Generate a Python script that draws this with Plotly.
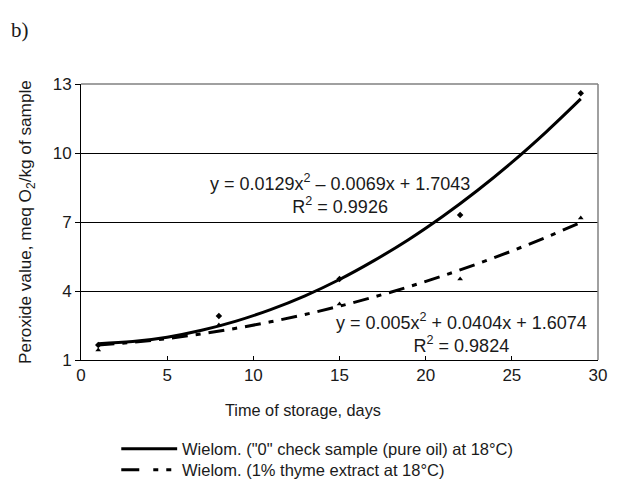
import plotly.graph_objects as go

# Measured points (days of storage)
days = [1, 8, 15, 22, 29]
check_pv = [1.65, 2.91, 4.52, 7.30, 12.60]
thyme_pv = [1.43, 2.52, 3.43, 4.52, 7.17]

# Polynomial trend lines
trend_days = [1, 3, 5, 7, 9, 11, 13, 15, 17, 19, 21, 23, 25, 27, 29]
check_trend = [1.71, 1.80, 1.99, 2.29, 2.69, 3.19, 3.79, 4.50, 5.32, 6.23, 7.25, 8.37, 9.59, 10.92, 12.35]
thyme_trend = [1.65, 1.77, 1.93, 2.14, 2.38, 2.66, 2.98, 3.34, 3.74, 4.18, 4.66, 5.18, 5.74, 6.34, 6.98]

x_ticks = [0, 5, 10, 15, 20, 25, 30]
y_ticks = [1, 4, 7, 10, 13]

series_names = ['Wielom. ("0" check sample (pure oil) at 18°C)',
                "Wielom. (1% thyme extract at 18°C)"]

FONT = "Liberation Sans, Arial, sans-serif"
TXT = "#1a1a1a"
TREND_DASH = "16px,8px,5px,8px"

fig = go.Figure()

fig.add_trace(go.Scatter(
    x=trend_days, y=check_trend, mode="lines", line_shape="spline",
    line=dict(color="black", width=3), name=series_names[0]
))
fig.add_trace(go.Scatter(
    x=trend_days, y=thyme_trend, mode="lines", line_shape="spline",
    line=dict(color="black", width=3, dash=TREND_DASH), name=series_names[1]
))
fig.add_trace(go.Scatter(
    x=days, y=check_pv, mode="markers",
    marker=dict(symbol="diamond", size=5, color="black")
))
fig.add_trace(go.Scatter(
    x=days, y=thyme_pv, mode="markers",
    marker=dict(symbol="triangle-up", size=5, color="black")
))

# regression equations
fig.add_annotation(x=15.0, y=8.20,
                   text="y = 0.0129x<sup>2</sup> – 0.0069x + 1.7043<br>R<sup>2</sup> = 0.9926")
fig.add_annotation(x=22.07, y=2.17,
                   text="y = 0.005x<sup>2</sup> + 0.0404x + 1.6074<br>R<sup>2</sup> = 0.9824")
fig.update_annotations(xref="x", yref="y", showarrow=False, align="center",
                       font=dict(size=18, color=TXT))

# panel label
fig.add_annotation(xref="paper", yref="paper", x=-0.14, y=1.245, xanchor="left", yanchor="top",
                   showarrow=False, text="b)",
                   font=dict(size=21, family="Liberation Serif, Times New Roman, serif", color=TXT))

# x-axis title (sits left of plot centre in the original)
fig.add_annotation(xref="paper", yref="paper", x=0.43, y=-0.181, yanchor="middle",
                   showarrow=False, text="Time of storage, days",
                   font=dict(size=16.3, color=TXT))

# legend drawn below the plot (paper coords)
fig.add_shape(type="line", xref="paper", yref="paper", x0=0.0779, x1=0.186, y0=-0.322, y1=-0.322,
              line=dict(color="black", width=3))
fig.add_shape(type="line", xref="paper", yref="paper", x0=0.0779, x1=0.186, y0=-0.398, y1=-0.398,
              line=dict(color="black", width=3, dash="18px,14px,5px,8px,5px,7px"))
for name, yy in zip(series_names, [-0.322, -0.398]):
    fig.add_annotation(xref="paper", yref="paper", x=0.192, y=yy, xanchor="left", yanchor="middle",
                       showarrow=False, text=name, font=dict(size=16.5, color=TXT))

# grey frame on top and right
fig.add_shape(type="line", xref="paper", yref="paper", x0=0, x1=1, y0=1, y1=1,
              line=dict(color="#808080", width=1.5), layer="above")
fig.add_shape(type="line", xref="paper", yref="paper", x0=1, x1=1, y0=0, y1=1,
              line=dict(color="#808080", width=1.5), layer="above")

fig.update_layout(
    width=619, height=482,
    margin=dict(l=81, r=12, t=84, b=122),
    plot_bgcolor="white", paper_bgcolor="white",
    font=dict(family=FONT, size=17, color=TXT),
    showlegend=False,
)

fig.update_xaxes(
    range=[0, 30], tickvals=x_ticks, ticks="inside", ticklen=4,
    tickcolor="black", showline=True, linecolor="black", linewidth=1,
    showgrid=False, zeroline=False, tickfont=dict(size=17),
)
fig.update_yaxes(
    range=[1, 13], tickvals=y_ticks, ticks="outside", ticklen=5,
    tickcolor="black", showline=True, linecolor="black", linewidth=1,
    showgrid=True, gridcolor="black", gridwidth=1, zeroline=False,
    tickfont=dict(size=17),
    title=dict(text="Peroxide value, meq O<sub>2</sub>/kg of sample",
               font=dict(size=17.2), standoff=16),
)

fig.write_html("out.html", config={"displayModeBar": False},
               post_script="document.body.style.margin='0';")
